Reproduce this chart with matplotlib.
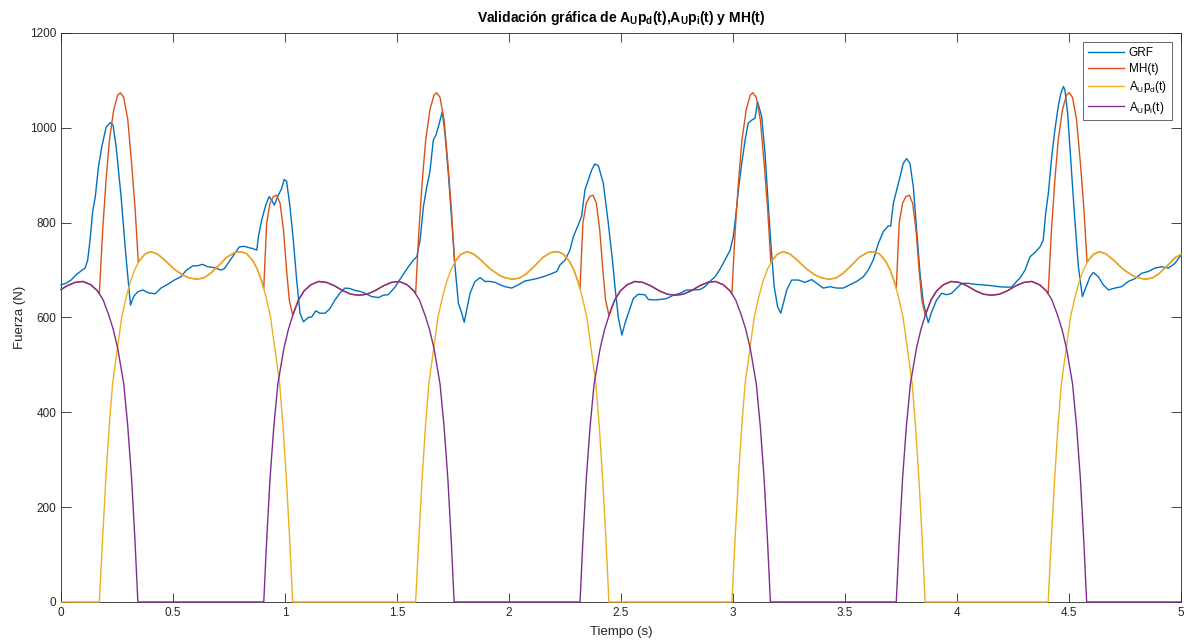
import numpy as np
import matplotlib
matplotlib.use('Agg')
import matplotlib.pyplot as plt

# ---- data (tiempo [s], fuerza [N]) ----
grf = [(0.000, 669), (0.022, 672), (0.045, 679), (0.067, 690), (0.089, 698), (0.107, 704), (0.119, 721),
       (0.131, 770), (0.141, 823), (0.153, 855), (0.167, 918), (0.182, 960), (0.201, 1001), (0.220, 1011),
       (0.232, 1006), (0.246, 960), (0.268, 855), (0.290, 728), (0.310, 626), (0.324, 644), (0.342, 654),
       (0.365, 658), (0.390, 652), (0.420, 650), (0.446, 662), (0.473, 669), (0.506, 679), (0.536, 686),
       (0.558, 699), (0.588, 709), (0.609, 709), (0.632, 712), (0.655, 707), (0.685, 705), (0.714, 700),
       (0.729, 703), (0.751, 718), (0.774, 734), (0.796, 749), (0.818, 750), (0.841, 747), (0.851, 746),
       (0.874, 742), (0.881, 770), (0.896, 806), (0.914, 837), (0.929, 855), (0.940, 848), (0.952, 837),
       (0.970, 858), (0.985, 872), (0.996, 891), (1.007, 887), (1.022, 834), (1.037, 763), (1.052, 679),
       (1.067, 609), (1.082, 591), (1.104, 600), (1.119, 601), (1.137, 614), (1.156, 609), (1.179, 609),
       (1.201, 619), (1.223, 637), (1.246, 652), (1.268, 662), (1.290, 661), (1.313, 657), (1.335, 655),
       (1.357, 651), (1.387, 644), (1.417, 642), (1.439, 647), (1.461, 648), (1.491, 664), (1.521, 686),
       (1.551, 707), (1.573, 721), (1.588, 728), (1.603, 763), (1.618, 834), (1.633, 876), (1.647, 908),
       (1.662, 974), (1.674, 985), (1.689, 1010), (1.702, 1034), (1.714, 988), (1.729, 904), (1.744, 806),
       (1.759, 707), (1.774, 630), (1.789, 609), (1.800, 590), (1.811, 616), (1.826, 651), (1.848, 676),
       (1.871, 684), (1.893, 676), (1.915, 676), (1.938, 674), (1.960, 669), (1.982, 665), (2.012, 662),
       (2.042, 669), (2.071, 677), (2.094, 679), (2.124, 682), (2.153, 686), (2.183, 691), (2.213, 697),
       (2.228, 711), (2.250, 721), (2.272, 742), (2.287, 770), (2.309, 795), (2.324, 813), (2.339, 869),
       (2.354, 890), (2.369, 911), (2.384, 924), (2.399, 920), (2.421, 883), (2.443, 800), (2.462, 720),
       (2.473, 665), (2.488, 600), (2.504, 563), (2.518, 588), (2.533, 609), (2.555, 640), (2.577, 649),
       (2.607, 648), (2.622, 638), (2.644, 637), (2.674, 638), (2.704, 640), (2.734, 647), (2.763, 651),
       (2.793, 658), (2.823, 658), (2.853, 659), (2.875, 665), (2.897, 676), (2.920, 686), (2.942, 702),
       (2.964, 721), (2.987, 742), (3.001, 770), (3.012, 813), (3.024, 869), (3.039, 925), (3.054, 974),
       (3.068, 1010), (3.086, 1017), (3.098, 1020), (3.110, 1055), (3.128, 1024), (3.143, 946), (3.158, 834),
       (3.170, 749), (3.184, 665), (3.199, 623), (3.213, 609), (3.225, 630), (3.240, 658), (3.262, 679),
       (3.292, 679), (3.321, 674), (3.351, 680), (3.374, 672), (3.403, 662), (3.433, 665), (3.463, 662),
       (3.492, 662), (3.522, 669), (3.552, 676), (3.582, 686), (3.604, 700), (3.626, 721), (3.649, 756),
       (3.671, 781), (3.693, 793), (3.704, 793), (3.716, 841), (3.731, 869), (3.746, 897), (3.760, 925),
       (3.775, 935), (3.790, 925), (3.805, 876), (3.820, 785), (3.835, 693), (3.850, 630), (3.872, 589),
       (3.887, 612), (3.909, 637), (3.932, 651), (3.954, 648), (3.976, 651), (3.999, 662), (4.021, 672),
       (4.051, 672), (4.080, 670), (4.110, 669), (4.155, 667), (4.184, 665), (4.214, 664), (4.244, 664),
       (4.266, 676), (4.281, 683), (4.304, 700), (4.326, 728), (4.348, 737), (4.371, 749), (4.385, 763),
       (4.396, 820), (4.408, 862), (4.423, 939), (4.437, 995), (4.452, 1045), (4.464, 1073), (4.475, 1087),
       (4.482, 1080), (4.494, 1031), (4.509, 925), (4.524, 820), (4.542, 707), (4.560, 644), (4.571, 658),
       (4.594, 686), (4.609, 695), (4.631, 686), (4.653, 669), (4.676, 658), (4.705, 662), (4.735, 665),
       (4.765, 676), (4.795, 682), (4.824, 693), (4.854, 697), (4.884, 704), (4.914, 707), (4.943, 704),
       (4.973, 714), (5.000, 732)]

mh = [(0.000, 659), (0.028, 667), (0.063, 674), (0.098, 676), (0.133, 669), (0.163, 656), (0.171, 650),
      (0.186, 785), (0.201, 890), (0.216, 974), (0.235, 1038), (0.253, 1069), (0.265, 1074), (0.280, 1064),
      (0.298, 1017), (0.315, 925), (0.330, 834), (0.345, 716),
      (0.350, 720), (0.373, 733), (0.399, 739), (0.430, 734), (0.465, 720), (0.505, 702), (0.545, 689),
      (0.575, 683), (0.605, 681), (0.635, 683), (0.665, 692), (0.705, 710), (0.740, 727), (0.775, 737),
      (0.804, 739), (0.830, 734), (0.856, 720), (0.876, 702), (0.896, 676), (0.905, 661),
      (0.918, 799), (0.933, 841), (0.948, 855), (0.963, 858), (0.978, 841), (0.993, 785), (1.007, 700),
      (1.019, 637), (1.034, 605),
      (1.060, 637), (1.085, 656), (1.115, 669), (1.150, 676), (1.185, 674), (1.220, 667), (1.260, 656),
      (1.295, 649), (1.330, 647), (1.365, 649), (1.400, 656), (1.440, 667), (1.475, 674), (1.510, 676),
      (1.545, 669), (1.575, 656), (1.583, 650),
      (1.598, 785), (1.613, 890), (1.628, 974), (1.647, 1038), (1.665, 1069), (1.677, 1074), (1.692, 1064),
      (1.710, 1017), (1.727, 925), (1.742, 834), (1.757, 716),
      (1.762, 720), (1.785, 733), (1.811, 739), (1.842, 734), (1.877, 720), (1.917, 702), (1.957, 689),
      (1.987, 683), (2.017, 681), (2.047, 683), (2.077, 692), (2.117, 710), (2.152, 727), (2.187, 737),
      (2.216, 739), (2.242, 734), (2.268, 720), (2.288, 702), (2.308, 676), (2.317, 661),
      (2.330, 799), (2.345, 841), (2.360, 855), (2.375, 858), (2.390, 841), (2.405, 785), (2.419, 700),
      (2.431, 637), (2.446, 605),
      (2.472, 637), (2.497, 656), (2.527, 669), (2.562, 676), (2.597, 674), (2.632, 667), (2.672, 656),
      (2.707, 649), (2.742, 647), (2.777, 649), (2.812, 656), (2.852, 667), (2.887, 674), (2.922, 676),
      (2.957, 669), (2.987, 656), (2.995, 650),
      (3.010, 785), (3.025, 890), (3.040, 974), (3.059, 1038), (3.077, 1069), (3.089, 1074), (3.104, 1064),
      (3.122, 1017), (3.139, 925), (3.154, 834), (3.169, 716),
      (3.174, 720), (3.197, 733), (3.223, 739), (3.254, 734), (3.289, 720), (3.329, 702), (3.369, 689),
      (3.399, 683), (3.429, 681), (3.459, 683), (3.489, 692), (3.529, 710), (3.564, 727), (3.599, 737),
      (3.628, 739), (3.654, 734), (3.680, 720), (3.700, 702), (3.720, 676), (3.729, 661),
      (3.742, 799), (3.757, 841), (3.772, 855), (3.787, 858), (3.802, 841), (3.817, 785), (3.831, 700),
      (3.843, 637), (3.858, 605),
      (3.884, 637), (3.909, 656), (3.939, 669), (3.974, 676), (4.009, 674), (4.044, 667), (4.084, 656),
      (4.119, 649), (4.154, 647), (4.189, 649), (4.224, 656), (4.264, 667), (4.299, 674), (4.334, 676),
      (4.369, 669), (4.399, 656), (4.407, 650),
      (4.422, 785), (4.437, 890), (4.452, 974), (4.471, 1038), (4.489, 1069), (4.501, 1074), (4.516, 1064),
      (4.534, 1017), (4.551, 925), (4.566, 834), (4.581, 716),
      (4.586, 720), (4.609, 733), (4.635, 739), (4.666, 734), (4.701, 720), (4.741, 702), (4.781, 689),
      (4.811, 683), (4.841, 681), (4.871, 683), (4.901, 692), (4.941, 710), (4.976, 727), (5.000, 733)]

apd = [(0.000, 0),
       (0.171, 0), (0.185, 130), (0.200, 260), (0.215, 370), (0.230, 460), (0.253, 540), (0.271, 601),
       (0.292, 645), (0.310, 676), (0.330, 702), (0.350, 720), (0.373, 733), (0.399, 739), (0.430, 734),
       (0.465, 720), (0.505, 702), (0.545, 689), (0.575, 683), (0.605, 681), (0.635, 683), (0.665, 692),
       (0.705, 710), (0.740, 727), (0.775, 737), (0.804, 739), (0.830, 734), (0.856, 720), (0.876, 702),
       (0.896, 676), (0.914, 645), (0.935, 601), (0.953, 540), (0.976, 460), (0.991, 370), (1.006, 260),
       (1.021, 130), (1.034, 0),
       (1.583, 0), (1.597, 130), (1.612, 260), (1.627, 370), (1.642, 460), (1.665, 540), (1.683, 601),
       (1.704, 645), (1.722, 676), (1.742, 702), (1.762, 720), (1.785, 733), (1.811, 739), (1.842, 734),
       (1.877, 720), (1.917, 702), (1.957, 689), (1.987, 683), (2.017, 681), (2.047, 683), (2.077, 692),
       (2.117, 710), (2.152, 727), (2.187, 737), (2.216, 739), (2.242, 734), (2.268, 720), (2.288, 702),
       (2.308, 676), (2.326, 645), (2.347, 601), (2.365, 540), (2.388, 460), (2.403, 370), (2.418, 260),
       (2.433, 130), (2.446, 0),
       (2.995, 0), (3.009, 130), (3.024, 260), (3.039, 370), (3.054, 460), (3.077, 540), (3.095, 601),
       (3.116, 645), (3.134, 676), (3.154, 702), (3.174, 720), (3.197, 733), (3.223, 739), (3.254, 734),
       (3.289, 720), (3.329, 702), (3.369, 689), (3.399, 683), (3.429, 681), (3.459, 683), (3.489, 692),
       (3.529, 710), (3.564, 727), (3.599, 737), (3.628, 739), (3.654, 734), (3.680, 720), (3.700, 702),
       (3.720, 676), (3.738, 645), (3.759, 601), (3.777, 540), (3.800, 460), (3.815, 370), (3.830, 260),
       (3.845, 130), (3.858, 0),
       (4.407, 0), (4.421, 130), (4.436, 260), (4.451, 370), (4.466, 460), (4.489, 540), (4.507, 601),
       (4.528, 645), (4.546, 676), (4.566, 702), (4.586, 720), (4.609, 733), (4.635, 739), (4.666, 734),
       (4.701, 720), (4.741, 702), (4.781, 689), (4.811, 683), (4.841, 681), (4.871, 683), (4.901, 692),
       (4.941, 710), (4.976, 727), (5.000, 733)]

api = [(0.000, 659), (0.028, 667), (0.063, 674), (0.098, 676), (0.133, 669), (0.163, 656), (0.188, 637),
       (0.213, 605), (0.233, 575), (0.253, 535), (0.280, 460), (0.298, 370), (0.315, 260), (0.330, 130),
       (0.343, 0),
       (0.905, 0), (0.918, 130), (0.933, 260), (0.950, 370), (0.968, 460), (0.995, 535), (1.015, 575),
       (1.035, 605), (1.060, 637), (1.085, 656), (1.115, 669), (1.150, 676), (1.185, 674), (1.220, 667),
       (1.260, 656), (1.295, 649), (1.330, 647), (1.365, 649), (1.400, 656), (1.440, 667), (1.475, 674),
       (1.510, 676), (1.545, 669), (1.575, 656), (1.600, 637), (1.625, 605), (1.645, 575), (1.665, 535),
       (1.692, 460), (1.710, 370), (1.727, 260), (1.742, 130), (1.755, 0),
       (2.317, 0), (2.330, 130), (2.345, 260), (2.362, 370), (2.380, 460), (2.407, 535), (2.427, 575),
       (2.447, 605), (2.472, 637), (2.497, 656), (2.527, 669), (2.562, 676), (2.597, 674), (2.632, 667),
       (2.672, 656), (2.707, 649), (2.742, 647), (2.777, 649), (2.812, 656), (2.852, 667), (2.887, 674),
       (2.922, 676), (2.957, 669), (2.987, 656), (3.012, 637), (3.037, 605), (3.057, 575), (3.077, 535),
       (3.104, 460), (3.122, 370), (3.139, 260), (3.154, 130), (3.167, 0),
       (3.729, 0), (3.742, 130), (3.757, 260), (3.774, 370), (3.792, 460), (3.819, 535), (3.839, 575),
       (3.859, 605), (3.884, 637), (3.909, 656), (3.939, 669), (3.974, 676), (4.009, 674), (4.044, 667),
       (4.084, 656), (4.119, 649), (4.154, 647), (4.189, 649), (4.224, 656), (4.264, 667), (4.299, 674),
       (4.334, 676), (4.369, 669), (4.399, 656), (4.424, 637), (4.449, 605), (4.469, 575), (4.489, 535),
       (4.516, 460), (4.534, 370), (4.551, 260), (4.566, 130), (4.579, 0),
       (5.000, 0)]

labels = ['GRF', 'MH(t)', r'$A_{U}p_{d}(t)$', r'$A_{U}p_{i}(t)$']
colors = ['#0072BD', '#D95319', '#EDB120', '#7E2F8E']
x_ticks = [0, 0.5, 1, 1.5, 2, 2.5, 3, 3.5, 4, 4.5, 5]
x_tick_labels = ['0', '0.5', '1', '1.5', '2', '2.5', '3', '3.5', '4', '4.5', '5']
y_ticks = [0, 200, 400, 600, 800, 1000, 1200]

plt.rcParams['font.family'] = ['Liberation Sans', 'DejaVu Sans']
plt.rcParams['mathtext.fontset'] = 'custom'
plt.rcParams['mathtext.rm'] = 'Liberation Sans'
plt.rcParams['mathtext.it'] = 'Liberation Sans'
plt.rcParams['mathtext.bf'] = 'Liberation Sans:bold'

dark = '#262626'

fig = plt.figure(figsize=(11.9, 6.43), dpi=100)
ax = fig.add_axes([0.0513, 0.0638, 0.9411, 0.8849])

for series, lab, col in zip([grf, mh, apd, api], labels, colors):
    arr = np.array(series, dtype=float)
    ax.plot(arr[:, 0], arr[:, 1], color=col, lw=1.0, label=lab, clip_on=False, zorder=3)

ax.set_xlim(0, 5)
ax.set_ylim(0, 1200)
ax.set_xticks(x_ticks)
ax.set_xticklabels(x_tick_labels)
ax.set_yticks(y_ticks)
ax.tick_params(direction='in', top=True, right=True, colors=dark, labelsize=8.5, width=0.6)
ax.tick_params(axis='y', length=7.5)
ax.tick_params(axis='x', length=6.5)
for sp in ax.spines.values():
    sp.set_color(dark)
    sp.set_linewidth(0.6)

ax.set_xlabel('Tiempo (s)', fontsize=9.5, color=dark, labelpad=5)
ax.set_ylabel('Fuerza (N)', fontsize=9.5, color=dark, labelpad=3)
ax.set_title(r'Validación gráfica de $\mathbf{A_{U}p_{d}(t)}$,$\mathbf{A_{U}p_{i}(t)}$ y MH(t)',
             fontsize=10, fontweight='bold', color='black', pad=8)

leg = ax.legend(loc='upper right', fontsize=8.5, frameon=True, fancybox=False, borderaxespad=0.8,
                handlelength=3.0, handletextpad=0.45, labelspacing=0.35, borderpad=0.4)
leg.get_frame().set_edgecolor(dark)
leg.get_frame().set_linewidth(0.6)

plt.savefig('out.png', dpi=100)
